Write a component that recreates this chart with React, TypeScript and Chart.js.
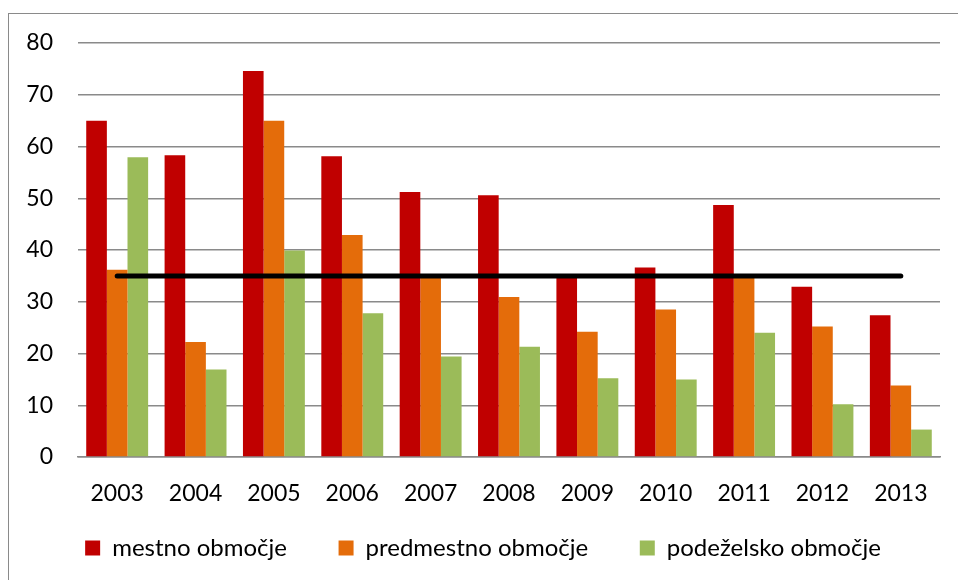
import React, { useEffect, useRef } from "react";
import { Chart, registerables } from "chart.js";

Chart.register(...registerables);

const categories = ["2003", "2004", "2005", "2006", "2007", "2008", "2009", "2010", "2011", "2012", "2013"];
const seriesNames = ["mestno območje", "predmestno območje", "podeželsko območje"];
const mestno = [65.0, 58.3, 74.6, 58.1, 51.2, 50.6, 35.0, 36.6, 48.7, 32.9, 27.4];
const predmestno = [36.2, 22.2, 65.0, 42.9, 34.8, 30.9, 24.2, 28.5, 34.8, 25.2, 13.8];
const podezelsko = [57.9, 16.9, 39.9, 27.8, 19.4, 21.3, 15.2, 15.0, 24.0, 10.2, 5.3];
const limitValues = [35, 35, 35, 35, 35, 35, 35, 35, 35, 35, 35];
const yTicks = [0, 10, 20, 30, 40, 50, 60, 70, 80];

const COLORS = ["#C00000", "#E46C0A", "#9BBB59"];
const FONT = "Lato, 'Open Sans', sans-serif";

export default function App() {
  const ref = useRef<HTMLCanvasElement | null>(null);

  useEffect(() => {
    if (!ref.current) return;
    const barSeries = [mestno, predmestno, podezelsko];
    const defaultGen = (Chart as any).defaults.plugins.legend.labels.generateLabels;
    const chart = new Chart(ref.current, {
      type: "bar",
      data: {
        labels: categories,
        datasets: [
          {
            type: "line",
            label: "limit",
            data: limitValues,
            borderColor: "#000000",
            borderWidth: 5,
            borderCapStyle: "round",
            pointRadius: 0,
            fill: false,
            order: 0,
          } as any,
          ...barSeries.map((d, i) => ({
            type: "bar" as const,
            label: seriesNames[i],
            data: d,
            backgroundColor: COLORS[i],
            borderWidth: 0,
            categoryPercentage: 0.79,
            barPercentage: 1.0,
            order: 1,
          })),
        ],
      },
      options: {
        responsive: false,
        animation: false,
        layout: { padding: { left: 26, right: 18, top: 43, bottom: 10 } },
        plugins: {
          tooltip: { enabled: false },
          legend: {
            position: "bottom",
            labels: {
              font: { family: FONT, size: 24 },
              color: "#000",
              boxWidth: 15,
              boxHeight: 15,
              padding: 27,
              generateLabels: (c: any) => {
                const items = defaultGen(c).filter((it: any) => it.text !== "limit");
                return items.map((it: any, idx: number) => ({
                  ...it,
                  lineWidth: 0,
                  text: idx < items.length - 1 ? it.text + "    " : it.text,
                }));
              },
            },
          },
        },
        scales: {
          x: {
            grid: { display: false, drawTicks: false },
            border: { display: true, color: "#8a8a8a", width: 1.5 },
            ticks: { font: { family: FONT, size: 23 }, color: "#000", padding: 23 },
            afterFit: (s: any) => {
              s.height = 52;
            },
          },
          y: {
            min: 0,
            max: 80,
            afterBuildTicks: (s: any) => {
              s.ticks = yTicks.map((v) => ({ value: v }));
            },
            afterFit: (s: any) => {
              s.width = 52;
            },
            grid: { color: "#8a8a8a", lineWidth: 1.5, drawTicks: false },
            border: { display: false },
            ticks: { font: { family: FONT, size: 23 }, color: "#000", padding: 25 },
          },
        },
      },
    });
    return () => chart.destroy();
  }, []);

  return (
    <div style={{ position: "fixed", left: 0, top: 0, width: 958, height: 580, background: "#fff", overflow: "hidden" }}>
      <div
        style={{
          position: "absolute",
          left: 8,
          top: 13,
          width: 1000,
          height: 1000,
          borderLeft: "1px solid #8a8a8a",
          borderTop: "1px solid #8a8a8a",
        }}
      />
      <canvas ref={ref} width={958} height={580} style={{ position: "absolute", left: 0, top: 0 }} />
    </div>
  );
}
